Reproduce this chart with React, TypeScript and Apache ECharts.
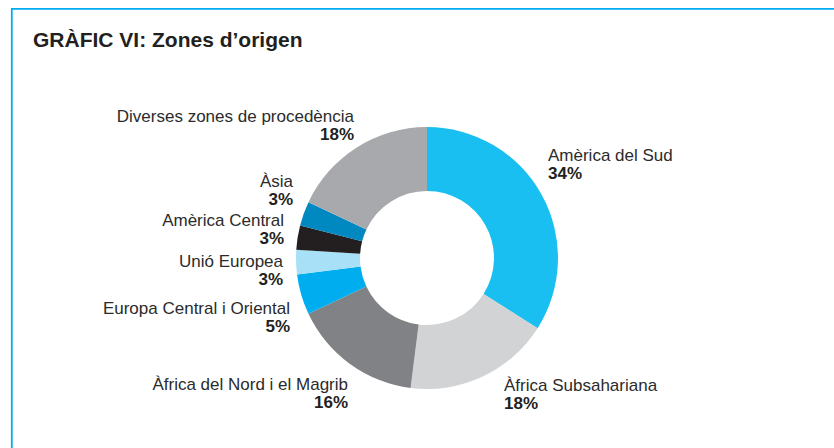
import React, { useEffect, useRef } from "react";
import * as echarts from "echarts";

const categories = [
  "Amèrica del Sud",
  "Àfrica Subsahariana",
  "Àfrica del Nord i el Magrib",
  "Europa Central i Oriental",
  "Unió Europea",
  "Amèrica Central",
  "Àsia",
  "Diverses zones de procedència",
];
const values = [34, 18, 16, 5, 3, 3, 3, 18];
const colors = ["#18bff0", "#d1d3d4", "#808285", "#00aeef", "#a8e0f7", "#231f20", "#0088c0", "#a7a9ac"];

// label anchor layout: [x, y, align]
const labelAnchors: [number, number, string][] = [
  [548, 164, "left"],
  [504, 394, "left"],
  [348, 393, "right"],
  [290, 317, "right"],
  [283, 270, "right"],
  [284, 229, "right"],
  [293, 190, "right"],
  [354, 125, "right"],
];

export default function App() {
  const ref = useRef<HTMLDivElement>(null);
  useEffect(() => {
    if (!ref.current) return;
    const chart = echarts.init(ref.current, null, { renderer: "svg" });
    chart.setOption({
      animation: false,
      backgroundColor: "#ffffff",
      title: {
        text: "GRÀFIC VI: Zones d’origen",
        left: 28,
        top: 24,
        textStyle: {
          fontFamily: "Liberation Sans, Arial, sans-serif",
          fontSize: 21,
          fontWeight: "bold",
          color: "#231f20",
        },
      },
      graphic: [
        {
          type: "rect",
          shape: { x: 11.8, y: 8.8, width: 900, height: 600 },
          style: { fill: "none", stroke: "#00aeef", lineWidth: 1.8 },
          silent: true,
        },
      ],
      series: [
        {
          type: "pie",
          center: [427, 258],
          radius: [67, 131],
          startAngle: 90,
          clockwise: true,
          avoidLabelOverlap: false,
          labelLine: { show: false },
          itemStyle: { borderWidth: 0 },
          label: {
            show: true,
            position: "outside",
            formatter: (p: any) => `{n|${p.name}}\n{v|${p.value}%}`,
            rich: {
              n: {
                fontFamily: "Liberation Sans, Arial, sans-serif",
                fontSize: 17,
                color: "#2b2b2b",
                lineHeight: 18,
              },
              v: {
                fontFamily: "Liberation Sans Narrow, Liberation Sans, Arial, sans-serif",
                fontSize: 17,
                fontWeight: "bold",
                color: "#231f20",
                lineHeight: 18,
              },
            },
          },
          labelLayout: (params: any) => {
            const a = labelAnchors[params.dataIndex];
            return { x: a[0], y: a[1], align: a[2], verticalAlign: "middle" };
          },
          data: categories.map((name, i) => ({
            name,
            value: values[i],
            itemStyle: { color: colors[i] },
          })),
        },
      ],
    });
    return () => chart.dispose();
  }, []);
  return (
    <div
      ref={ref}
      style={{ position: "absolute", left: 0, top: 0, width: 834, height: 448 }}
    />
  );
}
